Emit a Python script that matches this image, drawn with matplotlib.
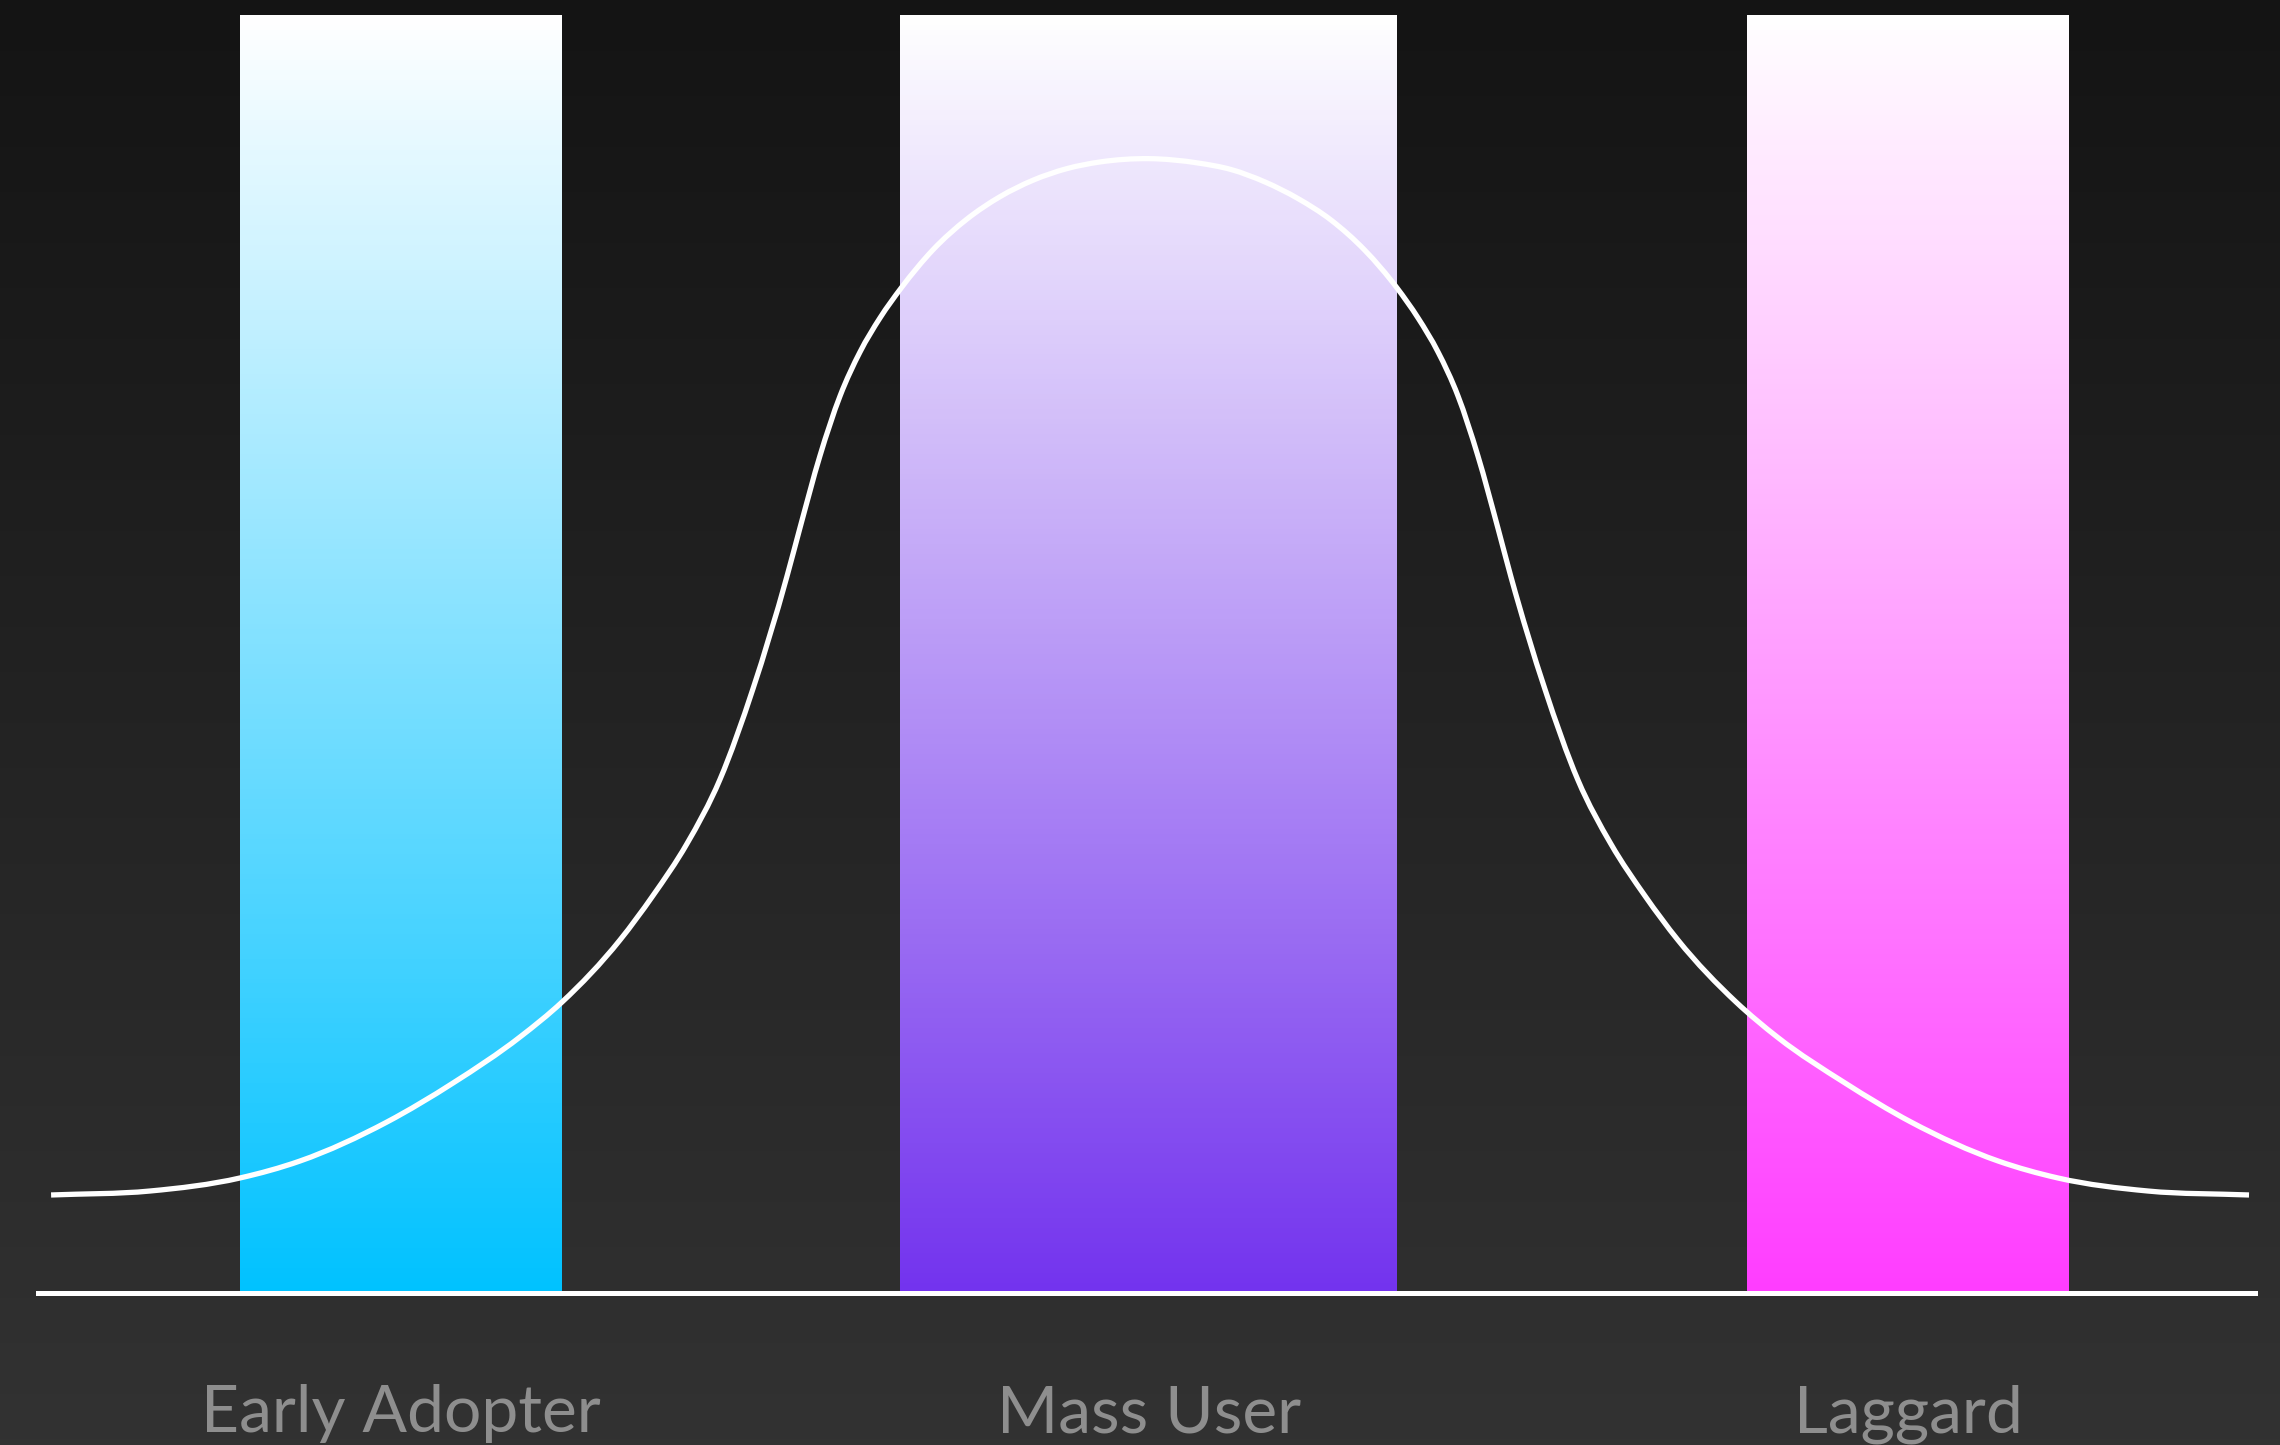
import numpy as np
import matplotlib
matplotlib.use("Agg")
import matplotlib.pyplot as plt
from matplotlib.colors import LinearSegmentedColormap
from matplotlib.path import Path
from matplotlib.patches import PathPatch

plt.rcParams["font.family"] = ["Lato", "DejaVu Sans"]

# segments along the adoption axis (0-100) and their heights
segments = ["Early Adopter", "Mass User", "Laggard"]
segment_start = [9.1, 38.9, 77.1]
segment_end = [23.6, 61.3, 91.6]
segment_height = [100, 100, 100]
segment_colors = ["#00c2ff", "#7333ee", "#ff3dff"]

# adoption curve read along the same axis
curve_x = [0.59, 5.05, 9.11, 11.82, 15.74, 18.72, 21.74, 23.64, 26.25, 27.74,
           29.27, 30.76, 32.25, 33.78, 34.37, 35.27, 36.18, 37.08, 37.98, 38.93,
           40.37, 41.90, 43.39, 44.88, 46.41, 47.90, 50.11,
           52.32, 53.81, 55.35, 56.83, 58.32, 59.86, 61.30, 62.25, 63.15, 64.05,
           64.95, 65.85, 66.44, 67.97, 69.46, 70.95, 72.49, 73.97, 76.59, 78.48,
           81.51, 84.48, 88.41, 91.11, 95.17, 99.73]
curve_y = [7.67, 7.98, 9.00, 10.33, 13.38, 16.43, 20.03, 22.77, 27.62, 31.10,
           35.15, 40.18, 47.28, 56.06, 59.87, 65.50, 70.20, 73.64, 76.30, 78.63,
           81.63, 84.03, 85.78, 87.07, 87.98, 88.50, 88.76,
           88.42, 87.91, 86.93, 85.64, 83.96, 81.57, 78.64, 76.29, 73.63, 70.19,
           65.49, 59.86, 56.03, 47.26, 40.14, 35.13, 31.06, 27.62, 22.77, 19.99,
           16.43, 13.38, 10.33, 9.00, 7.98, 7.67]


def smooth_path(xs, ys):
    # cubic Hermite through the points (3-point slopes), as Bezier segments
    x = np.asarray(xs, float)
    y = np.asarray(ys, float)
    h = np.diff(x)
    d = np.diff(y) / h
    m = np.empty_like(y)
    m[0], m[-1] = d[0], d[-1]
    m[1:-1] = (h[1:] * d[:-1] + h[:-1] * d[1:]) / (h[:-1] + h[1:])
    verts = [(x[0], y[0])]
    codes = [Path.MOVETO]
    for i in range(len(x) - 1):
        verts += [(x[i] + h[i] / 3, y[i] + m[i] * h[i] / 3),
                  (x[i + 1] - h[i] / 3, y[i + 1] - m[i + 1] * h[i] / 3),
                  (x[i + 1], y[i + 1])]
        codes += [Path.CURVE4] * 3
    return Path(verts, codes)


W, H = 2280, 1445
fig = plt.figure(figsize=(W / 100, H / 100), dpi=100)

# dark vertical background gradient
bg = fig.add_axes([0, 0, 1, 1])
bg_cmap = LinearSegmentedColormap.from_list("bg", ["#323232", "#141414"])
bg.imshow(np.linspace(0, 1, 256).reshape(-1, 1), cmap=bg_cmap, aspect="auto",
          origin="lower", extent=[0, 1, 0, 1])
bg.set_axis_off()

ax = fig.add_axes([38 / W, (H - 1293) / H, 2217 / W, 1278 / H])
ax.patch.set_alpha(0)

bars = ax.bar([(s + e) / 2 for s, e in zip(segment_start, segment_end)],
              segment_height,
              width=[e - s for s, e in zip(segment_start, segment_end)],
              color="none", edgecolor="none")

grad = np.linspace(0, 1, 256).reshape(-1, 1)
for bar, c in zip(bars, segment_colors):
    cmap = LinearSegmentedColormap.from_list("seg", [c, "#ffffff"])
    x0, y0 = bar.get_x(), bar.get_y()
    im = ax.imshow(grad, cmap=cmap, aspect="auto", origin="lower",
                   extent=[x0, x0 + bar.get_width(), y0, y0 + bar.get_height()],
                   zorder=1)
    im.set_clip_path(bar)

ax.add_patch(PathPatch(smooth_path(curve_x, curve_y), facecolor="none",
                       edgecolor="white", lw=3.8, capstyle="butt",
                       joinstyle="round", zorder=3))
ax.axhline(0, color="white", lw=3.6, zorder=4, clip_on=False)

for bar, name in zip(bars, segments):
    ax.text(bar.get_x() + bar.get_width() / 2, -10.9, name, ha="center",
            va="baseline", fontsize=47.5, color="#8e8e8e")

ax.set_xlim(0, 100)
ax.set_ylim(0, 100)
ax.set_axis_off()

fig.savefig("out.png", dpi=100)
plt.close()
